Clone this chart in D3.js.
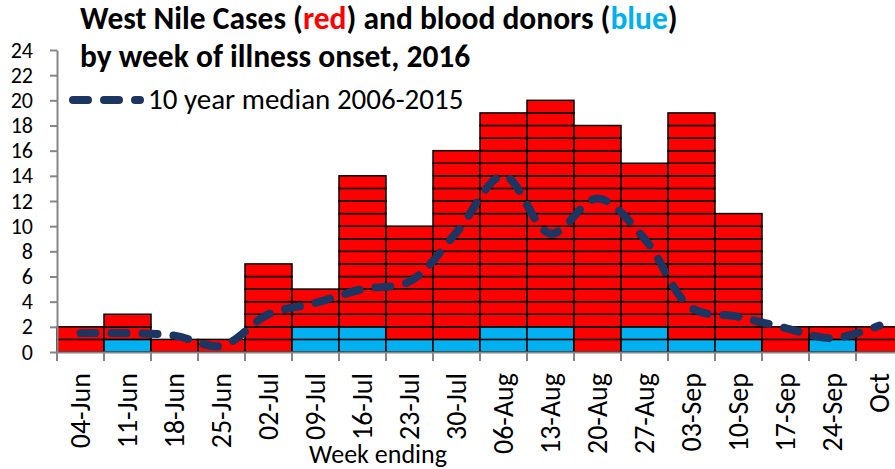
<!DOCTYPE html>
<html>
<head>
<meta charset="utf-8">
<script src="https://cdn.jsdelivr.net/npm/d3@7"></script>
<style>
  body { margin: 0; background: #fff; }
  svg text { font-family: Carlito, Lato, sans-serif; }
</style>
</head>
<body>
<div id="chart"></div>
<script>
// week ending labels
const weeks = ["04-Jun", "11-Jun", "18-Jun", "25-Jun", "02-Jul", "09-Jul", "16-Jul", "23-Jul", "30-Jul",
    "06-Aug", "13-Aug", "20-Aug", "27-Aug", "03-Sep", "10-Sep", "17-Sep", "24-Sep", "Oct"];
// total West Nile cases per week
const cases = [2, 3, 1, 1, 7, 5, 14, 10, 16, 19, 20, 18, 15, 19, 11, 2, 2, 2];
// of which blood donors
const donors = [0, 1, 0, 0, 0, 2, 2, 1, 1, 2, 2, 0, 2, 1, 1, 0, 1, 0];
// 10 year median 2006-2015
const median = [1.5, 1.5, 1.3, 0.5, 3.0, 3.9, 5.0, 5.6, 9.5, 14.0, 9.4, 12.2, 9.0, 3.5, 2.8, 1.9, 1.1, 2.1];
const yTicks = [0, 2, 4, 6, 8, 10, 12, 14, 16, 18, 20, 22, 24];

const W = 895, H = 469;
const svg = d3.select("#chart").append("svg")
    .attr("width", W)
    .attr("height", H);

const x = d3.scaleBand().domain(weeks).range([57, 57 + 18 * 47]).padding(0);
const y = d3.scaleLinear().domain([0, 24]).range([352, 50]);

// stacked unit cells
const cells = [];
weeks.forEach((w, i) => {
    for (let k = 0; k < cases[i]; k++) {
        cells.push({week: w, k: k, donor: k < donors[i]});
    }
});

svg.append("g").selectAll("rect")
    .data(cells)
    .enter().append("rect")
    .attr("x", d => x(d.week))
    .attr("y", d => y(d.k + 1))
    .attr("width", x.bandwidth())
    .attr("height", d => y(d.k) - y(d.k + 1))
    .attr("fill", d => d.donor ? "#00b0f0" : "#ff0000")
    .attr("stroke", "#000")
    .attr("stroke-width", 1.5);

// axes
const yAxis = svg.append("g")
    .attr("transform", "translate(57,0)")
    .call(d3.axisLeft(y).tickValues(yTicks).tickSize(7).tickPadding(17).tickSizeOuter(0));
yAxis.selectAll("text").style("font-size", "22px").attr("fill", "#000");

const xAxis = svg.append("g")
    .attr("transform", "translate(0,352)")
    .call(d3.axisBottom(x).tickSize(0).tickFormat(""));
xAxis.selectAll(".tick").remove();
xAxis.selectAll("line.bound")
    .data(d3.range(weeks.length + 1))
    .enter().append("line")
    .attr("class", "bound")
    .attr("x1", i => x.range()[0] + i * x.step())
    .attr("x2", i => x.range()[0] + i * x.step())
    .attr("y1", 0)
    .attr("y2", 9);

svg.selectAll(".domain, .tick line, line.bound")
    .attr("stroke", "#868686")
    .attr("stroke-width", 2);

svg.append("g").selectAll("text")
    .data(weeks)
    .enter().append("text")
    .attr("transform", d => `translate(${x(d) + x.bandwidth() / 2 + 9},373) rotate(-90)`)
    .attr("text-anchor", "end")
    .style("font-size", "28px")
    .text(d => d);

svg.append("text")
    .attr("x", 378)
    .attr("y", 463)
    .attr("text-anchor", "middle")
    .style("font-size", "26px")
    .text("Week ending");

// median line
const line = d3.line()
    .x((d, i) => x(weeks[i]) + x.bandwidth() / 2)
    .y(d => y(d))
    .curve(d3.curveCatmullRom.alpha(0.5));

const dashStyle = g => g
    .attr("fill", "none")
    .attr("stroke", "#1c3661")
    .attr("stroke-width", 8)
    .attr("stroke-linecap", "round")
    .attr("stroke-dasharray", "15,16");

svg.append("path")
    .datum(median)
    .attr("d", line)
    .call(dashStyle);

// legend
svg.append("line")
    .attr("x1", 73).attr("x2", 140)
    .attr("y1", 100).attr("y2", 100)
    .call(dashStyle);
svg.append("text")
    .attr("x", 148)
    .attr("y", 109)
    .style("font-size", "29px")
    .text("10 year median 2006-2015");

// title
const t1 = svg.append("text")
    .attr("x", 80)
    .attr("y", 29)
    .style("font-size", "31.5px")
    .style("font-weight", "bold");
t1.append("tspan").text("West Nile Cases (");
t1.append("tspan").attr("fill", "#ff0000").text("red");
t1.append("tspan").text(") and blood donors (");
t1.append("tspan").attr("fill", "#00b0f0").text("blue");
t1.append("tspan").text(")");

svg.append("text")
    .attr("x", 80)
    .attr("y", 67)
    .style("font-size", "31.5px")
    .style("font-weight", "bold")
    .text("by week of illness onset, 2016");
</script>
</body>
</html>
